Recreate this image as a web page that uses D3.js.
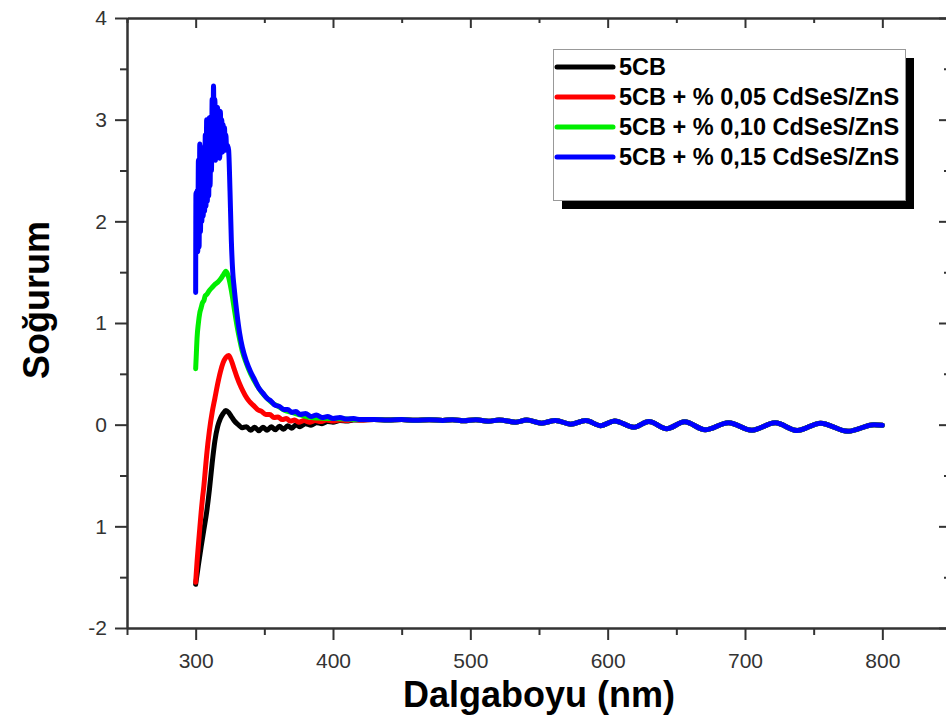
<!DOCTYPE html>
<html>
<head>
<meta charset="utf-8">
<script src="https://cdn.jsdelivr.net/npm/d3@7"></script>
<style>
	body { margin: 0; background: #fff; }
	svg { display: block; }
</style>
</head>
<body>
<div id="chart"></div>
<script>
// tick values and labels as printed on the figure
const wavelengthTicks = [300, 400, 500, 600, 700, 800]
const wavelengthMinorTicks = [250, 350, 450, 550, 650, 750, 850]
const absorbanceTicks = [-2, -1, 0, 1, 2, 3, 4]
const absorbanceTickLabels = ["-2", "1", "0", "1", "2", "3", "4"]
const absorbanceMinorTicks = [-1.5, -0.5, 0.5, 1.5, 2.5, 3.5]

const seriesNames = [
	"5CB",
	"5CB + % 0,05 CdSeS/ZnS",
	"5CB + % 0,10 CdSeS/ZnS",
	"5CB + % 0,15 CdSeS/ZnS"
]
const seriesColors = ["#000000", "#ff0000", "#00ee00", "#0000ff"]

// [wavelength nm, absorbance]
const pure5CB = [
	[300, -1.57], [302, -1.38], [304, -1.2], [306, -1.03], [308, -0.86], [310, -0.64],
	[312, -0.38], [314, -0.16], [316, -0.02], [318, 0.06], [320, 0.11], [322, 0.14],
	[324, 0.12], [326, 0.08], [328, 0.04], [331, 0.0], [334, -0.03], [337, -0.02],
	[340, -0.055], [343, -0.025], [346, -0.06], [349, -0.025], [352, -0.055], [355, -0.02],
	[358, -0.05], [361, -0.015], [364, -0.045], [367, -0.01], [370, -0.035], [373, 0.0],
	[376, -0.02], [380, 0.01], [384, -0.005], [388, 0.02], [392, 0.01], [396, 0.03],
	[400, 0.025], [405, 0.04], [410, 0.035], [415, 0.045], [420, 0.045]
]

const dose005 = [
	[300, -1.55], [301, -1.35], [302, -1.18], [303, -1.02], [304, -0.86], [305, -0.72],
	[306, -0.6], [307, -0.45], [308, -0.3], [310, -0.06], [312, 0.12], [314, 0.26],
	[316, 0.4], [318, 0.52], [320, 0.61], [322, 0.66], [324, 0.68], [326, 0.63],
	[328, 0.55], [330, 0.47], [333, 0.37], [336, 0.29], [339, 0.23], [342, 0.19],
	[345, 0.15], [348, 0.13], [351, 0.1], [354, 0.1], [357, 0.07], [360, 0.075],
	[363, 0.05], [366, 0.06], [369, 0.035], [372, 0.045], [375, 0.025], [379, 0.04],
	[383, 0.025], [387, 0.04], [391, 0.03], [395, 0.045], [400, 0.035], [405, 0.045],
	[410, 0.04], [415, 0.05], [420, 0.045]
]

const dose010 = [
	[300, 0.55], [300.5, 0.7], [301, 0.85], [302, 1.0], [303, 1.1], [304, 1.15],
	[305, 1.2], [306, 1.22], [307, 1.27], [308, 1.28], [310, 1.32], [312, 1.35],
	[314, 1.38], [316, 1.4], [318, 1.43], [320, 1.47], [322, 1.51], [323, 1.49],
	[324, 1.45], [326, 1.32], [328, 1.15], [330, 0.98], [332, 0.84], [334, 0.72],
	[337, 0.6], [340, 0.5], [344, 0.4], [348, 0.32], [352, 0.26], [356, 0.21],
	[360, 0.18], [365, 0.14], [370, 0.12], [375, 0.1], [380, 0.08], [390, 0.065],
	[400, 0.06], [410, 0.055], [420, 0.05]
]

const dose015 = [
	[300, 1.3], [300.2, 2.28], [300.6, 1.85], [301, 2.3], [301.5, 1.7], [302, 2.6],
	[302.5, 1.75], [303, 2.76], [303.5, 1.9], [304, 2.7], [304.5, 2.0], [305, 2.72],
	[305.5, 2.05], [306, 2.5], [306.5, 2.1], [307, 2.85], [307.5, 2.15], [308, 3.0],
	[308.5, 2.2], [309, 2.95], [309.5, 2.25], [310, 3.02], [310.5, 2.35], [311, 2.9],
	[311.5, 2.5], [312, 3.2], [312.5, 2.6], [313, 3.33], [313.5, 2.7], [314, 3.2],
	[314.5, 2.6], [315, 3.1], [315.5, 2.65], [316, 3.12], [316.5, 2.7], [317, 3.05],
	[317.5, 2.62], [318, 3.08], [318.5, 2.7], [319, 3.0], [319.5, 2.68], [320, 2.95],
	[320.5, 2.72], [321, 2.92], [321.5, 2.7], [322, 2.85], [322.5, 2.72], [323, 2.75],
	[324, 2.7], [325, 2.3], [326, 1.8], [327, 1.5], [328, 1.35], [330, 1.1],
	[332, 0.9], [334, 0.76], [337, 0.62], [340, 0.52], [343, 0.44], [346, 0.36],
	[349, 0.31], [352, 0.26], [355, 0.23], [358, 0.19], [361, 0.18], [364, 0.15],
	[367, 0.15], [370, 0.12], [373, 0.13], [376, 0.1], [380, 0.11], [384, 0.08],
	[388, 0.095], [392, 0.07], [396, 0.08], [400, 0.06], [405, 0.07], [410, 0.055],
	[415, 0.06], [420, 0.05]
]

// above ~430 nm the four traces sit on top of each other
const sharedTail = [
	[430, 0.05], [440, 0.046], [450, 0.05], [460, 0.044], [470, 0.048], [480, 0.042],
	[487, 0.048], [495, 0.038], [504, 0.048], [513, 0.033], [521, 0.047], [533, 0.025],
	[541, 0.045], [552, 0.015], [562, 0.042], [573, 0.005], [584, 0.04], [595, -0.01],
	[605, 0.036], [619, -0.025], [630, 0.032], [643, -0.04], [656, 0.028], [671, -0.05],
	[688, 0.02], [705, -0.055], [722, 0.018], [738, -0.058], [755, 0.015], [775, -0.065],
	[794, 0.0], [800, -0.005]
]

function renderChart() {
	const width = 946,
		height = 722

	const plot = {left: 127, right: 951, top: 18, bottom: 628}

	const series = [pure5CB, dose005, dose010, dose015].map((head, i) => ({
		name: seriesNames[i],
		color: seriesColors[i],
		values: head.concat(sharedTail)
	}))

	const svg = d3.select("#chart").append("svg")
		.attr("width", width)
		.attr("height", height)
		.style("font-family", "'Liberation Sans', Arial, sans-serif")

	const x = d3.scaleLinear()
		.domain([250, 850])
		.range([plot.left, plot.right])

	const y = d3.scaleLinear()
		.domain([-2, 4])
		.range([plot.bottom, plot.top])

	const styleAxis = g => {
		g.select(".domain").attr("stroke", "#333").attr("stroke-width", 2)
		g.selectAll(".tick line").attr("stroke", "#333").attr("stroke-width", 2)
		g.selectAll(".tick text").attr("fill", "#333").style("font-size", "21px")
	}

	// bottom
	svg.append("g")
		.attr("transform", `translate(0,${plot.bottom})`)
		.call(d3.axisBottom(x).tickValues(wavelengthMinorTicks).tickSize(7).tickSizeOuter(0).tickFormat(""))
		.call(styleAxis)
	svg.append("g")
		.attr("transform", `translate(0,${plot.bottom})`)
		.call(d3.axisBottom(x).tickValues(wavelengthTicks).tickSize(12).tickSizeOuter(0).tickPadding(13).tickFormat(d3.format("d")))
		.call(styleAxis)

	// top, ticks inside
	svg.append("g")
		.attr("transform", `translate(0,${plot.top})`)
		.call(d3.axisTop(x).tickValues(wavelengthMinorTicks).tickSize(-5).tickSizeOuter(0).tickFormat(""))
		.call(styleAxis)
	svg.append("g")
		.attr("transform", `translate(0,${plot.top})`)
		.call(d3.axisTop(x).tickValues(wavelengthTicks).tickSize(-10).tickSizeOuter(0).tickFormat(""))
		.call(styleAxis)

	// left
	svg.append("g")
		.attr("transform", `translate(${plot.left},0)`)
		.call(d3.axisLeft(y).tickValues(absorbanceMinorTicks).tickSize(7).tickSizeOuter(0).tickFormat(""))
		.call(styleAxis)
	svg.append("g")
		.attr("transform", `translate(${plot.left},0)`)
		.call(d3.axisLeft(y).tickValues(absorbanceTicks).tickSize(12).tickSizeOuter(0).tickPadding(8)
			.tickFormat((d, i) => absorbanceTickLabels[i]))
		.call(styleAxis)

	// right, ticks inside
	svg.append("g")
		.attr("transform", `translate(${plot.right},0)`)
		.call(d3.axisRight(y).tickValues(absorbanceMinorTicks).tickSize(-7).tickSizeOuter(0).tickFormat(""))
		.call(styleAxis)
	svg.append("g")
		.attr("transform", `translate(${plot.right},0)`)
		.call(d3.axisRight(y).tickValues(absorbanceTicks).tickSize(-12).tickSizeOuter(0).tickFormat(""))
		.call(styleAxis)

	const line = d3.line()
		.x(d => x(d[0]))
		.y(d => y(d[1]))
		.curve(d3.curveMonotoneX)

	svg.append("g")
		.selectAll("path")
		.data(series)
		.join("path")
			.attr("fill", "none")
			.attr("stroke", d => d.color)
			.attr("stroke-width", 5)
			.attr("stroke-linejoin", "round")
			.attr("stroke-linecap", "round")
			.attr("d", d => line(d.values))

	// axis titles
	svg.append("text")
		.attr("x", (plot.left + plot.right) / 2)
		.attr("y", 707)
		.attr("text-anchor", "middle")
		.style("font-size", "36px")
		.style("font-weight", "bold")
		.text("Dalgaboyu (nm)")

	svg.append("text")
		.attr("transform", "translate(49,300) rotate(-90)")
		.attr("text-anchor", "middle")
		.style("font-size", "36px")
		.style("font-weight", "bold")
		.text("Soğurum")

	// legend with drop shadow
	const legend = svg.append("g")
	legend.append("rect")
		.attr("x", 562).attr("y", 58)
		.attr("width", 352).attr("height", 151)
		.attr("fill", "#000")
	legend.append("rect")
		.attr("x", 553.5).attr("y", 49.5)
		.attr("width", 352).attr("height", 151)
		.attr("fill", "#fff")
		.attr("stroke", "#999")
		.attr("stroke-width", 1)

	const rows = legend.selectAll(".row")
		.data(series)
		.join("g")
			.attr("class", "row")
			.attr("transform", (d, i) => `translate(0,${67 + i * 30})`)

	rows.append("line")
		.attr("x1", 557).attr("x2", 613)
		.attr("stroke", d => d.color)
		.attr("stroke-width", 5)
		.attr("stroke-linecap", "round")

	rows.append("text")
		.attr("x", 619)
		.attr("dy", "0.36em")
		.style("font-size", "23.5px")
		.style("font-weight", "bold")
		.text(d => d.name)
}
renderChart()
</script>
</body>
</html>
